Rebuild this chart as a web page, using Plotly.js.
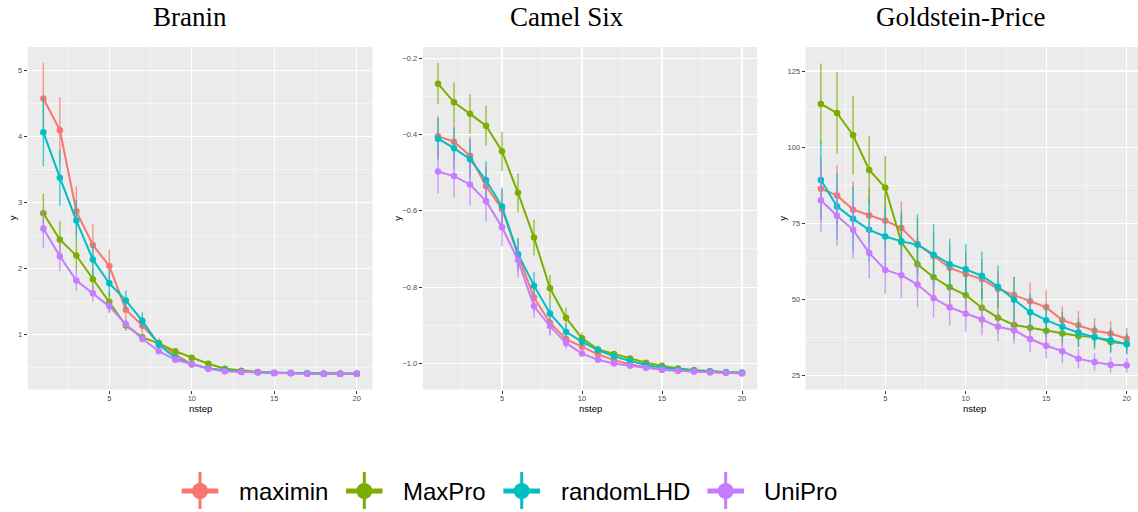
<!DOCTYPE html>
<html>
<head>
<meta charset="utf-8">
<script src="https://cdn.plot.ly/plotly-3.0.1.min.js"></script>
<style>html,body{margin:0;padding:0;background:#fff;}#chart{width:1138px;height:512px;}</style>
</head>
<body>
<div id="chart"></div>
<script>
// ---------- data ----------
const nstep = [1,2,3,4,5,6,7,8,9,10,11,12,13,14,15,16,17,18,19,20];
const seriesNames = ['maximin','MaxPro','randomLHD','UniPro'];
const panelTitles = ['Branin','Camel Six','Goldstein-Price'];
const xTickVals = [5,10,15,20];

// Branin
const braninMaximin    = [4.57,4.09,2.86,2.35,2.03,1.37,1.13,0.86,0.69,0.54,0.48,0.44,0.43,0.42,0.41,0.41,0.40,0.40,0.40,0.40];
const braninMaximinErr = [0.54,0.50,0.38,0.32,0.25,0.18,0.12,0.08,0.05,0.03,0.02,0.01,0.01,0.01,0.01,0.005,0.005,0.005,0.005,0.005];
const braninMaxPro     = [2.83,2.43,2.19,1.83,1.49,1.13,0.95,0.86,0.74,0.64,0.55,0.475,0.445,0.425,0.415,0.41,0.405,0.40,0.40,0.40];
const braninMaxProErr  = [0.30,0.28,0.22,0.18,0.15,0.08,0.05,0.04,0.03,0.02,0.015,0.01,0.01,0.005,0.005,0.005,0.005,0.005,0.005,0.005];
const braninRandom     = [4.06,3.37,2.72,2.13,1.77,1.51,1.20,0.84,0.64,0.545,0.48,0.45,0.43,0.42,0.41,0.41,0.405,0.40,0.40,0.40];
const braninRandomErr  = [0.52,0.42,0.31,0.25,0.20,0.15,0.13,0.07,0.04,0.02,0.015,0.01,0.01,0.005,0.005,0.005,0.005,0.005,0.005,0.005];
const braninUniPro     = [2.60,2.18,1.81,1.62,1.42,1.15,0.93,0.74,0.61,0.545,0.475,0.435,0.425,0.42,0.41,0.405,0.40,0.40,0.40,0.40];
const braninUniProErr  = [0.30,0.23,0.16,0.13,0.10,0.07,0.06,0.04,0.03,0.02,0.01,0.01,0.005,0.005,0.005,0.005,0.005,0.005,0.005,0.005];
const braninYTicks     = [1,2,3,4,5];

// Camel Six
const camelMaximin    = [-0.405,-0.419,-0.456,-0.535,-0.595,-0.716,-0.827,-0.893,-0.936,-0.956,-0.976,-0.991,-1.002,-1.010,-1.016,-1.019,-1.021,-1.023,-1.024,-1.025];
const camelMaximinErr = [0.054,0.052,0.050,0.050,0.050,0.045,0.040,0.030,0.020,0.012,0.008,0.006,0.005,0.004,0.003,0.003,0.002,0.002,0.002,0.002];
const camelMaxPro     = [-0.267,-0.316,-0.346,-0.377,-0.444,-0.553,-0.670,-0.803,-0.880,-0.934,-0.963,-0.975,-0.987,-0.998,-1.006,-1.013,-1.017,-1.020,-1.023,-1.024];
const camelMaxProErr  = [0.054,0.052,0.052,0.052,0.052,0.051,0.047,0.035,0.026,0.015,0.010,0.008,0.006,0.005,0.004,0.003,0.003,0.002,0.002,0.002];
const camelRandom     = [-0.411,-0.436,-0.465,-0.520,-0.589,-0.713,-0.796,-0.869,-0.917,-0.943,-0.965,-0.981,-0.993,-1.004,-1.011,-1.016,-1.019,-1.021,-1.023,-1.024];
const camelRandomErr  = [0.055,0.055,0.053,0.050,0.050,0.040,0.036,0.030,0.020,0.012,0.008,0.006,0.005,0.004,0.003,0.003,0.002,0.002,0.002,0.002];
const camelUniPro     = [-0.497,-0.509,-0.531,-0.574,-0.643,-0.729,-0.850,-0.902,-0.946,-0.974,-0.990,-1.000,-1.006,-1.011,-1.016,-1.019,-1.021,-1.023,-1.024,-1.026];
const camelUniProErr  = [0.057,0.056,0.055,0.054,0.050,0.045,0.030,0.025,0.015,0.008,0.006,0.005,0.004,0.003,0.003,0.002,0.002,0.002,0.002,0.002];
const camelYTicks     = [-1.0,-0.8,-0.6,-0.4,-0.2];

// Goldstein-Price
const goldMaximin    = [86.3,84.1,79.4,77.5,75.8,73.4,68.1,64.2,60.3,58.3,56.6,53.4,51.4,49.3,47.3,43.1,41.4,39.6,38.7,37.0];
const goldMaximinErr = [10,10,9.4,9,9,8.8,8.5,8,7.5,7,6.5,6,6,6,5.6,4.6,4.6,4.2,4,3.5];
const goldMaxPro     = [114.2,111.2,103.9,92.5,86.6,68.7,61.5,57.2,53.9,51.3,47.2,43.9,41.5,40.6,39.6,38.7,37.9,37.6,35.9,35.3];
const goldMaxProErr  = [13.3,13.4,12.9,11.2,10.5,9,8.5,8,7.5,7,6.5,5,4.5,4.5,4.2,4,3.8,3.5,3.5,3.2];
const goldRandom     = [89.2,80.5,76.4,72.8,70.6,69.0,67.9,64.6,61.5,59.8,57.7,54.1,49.8,45.7,43.1,40.9,39.0,37.5,36.5,35.2];
const goldRandomErr  = [13,11,11,10.5,10,10,10,10,8.4,8.4,8,7,7.5,6,5.5,5,4.5,4,4,3.4];
const goldUniPro     = [82.5,77.4,72.8,65.2,59.6,57.9,54.8,50.4,47.3,45.2,43.3,40.9,39.8,36.9,34.7,32.9,30.4,29.3,28.4,28.3];
const goldUniProErr  = [10.6,9.8,9.5,8.5,7.8,7.7,7.5,6.5,6,5.8,5.2,4.7,4.5,4.4,4.2,4,3.2,2.8,2.6,2.5];
const goldYTicks     = [25,50,75,100,125];

// ---------- styling ----------
const colors = ['#F8766D','#7CAE00','#00BFC4','#C77CFF'];
const errColors = ['rgba(248,118,109,0.75)','rgba(124,174,0,0.75)','rgba(0,191,196,0.75)','rgba(199,124,255,0.75)'];
const W = 1138, H = 512;
const px = v => v / W;
const py = v => 1 - v / H;
const midpoints = arr => {
  const out = [];
  const step = arr[1] - arr[0];
  out.push(arr[0] - step / 2);
  for (let k = 0; k < arr.length; k++) out.push(arr[k] + step / 2);
  return out;
};

const panels = [
  {vals:[braninMaximin,braninMaxPro,braninRandom,braninUniPro], errs:[braninMaximinErr,braninMaxProErr,braninRandomErr,braninUniProErr],
   dom:[27.7,372.4], xr:[0.05,20.95], yr:[0.16,5.35], yticks:braninYTicks, fmt:'', titleX:190.3, yTitleX:12.3},
  {vals:[camelMaximin,camelMaxPro,camelRandom,camelUniPro], errs:[camelMaximinErr,camelMaxProErr,camelRandomErr,camelUniProErr],
   dom:[422.8,757.2], xr:[0.05,20.95], yr:[-1.068,-0.171], yticks:camelYTicks, fmt:'.1f', titleX:567, yTitleX:396.7},
  {vals:[goldMaximin,goldMaxPro,goldRandom,goldUniPro], errs:[goldMaximinErr,goldMaxProErr,goldRandomErr,goldUniProErr],
   dom:[805.6,1138], xr:[0.05,20.70], yr:[20.3,132.9], yticks:goldYTicks, fmt:'', titleX:960, yTitleX:781.7}
];

const plotTop = 47, plotBot = 389.5;
const traces = [];
const tickFont = {size: 7.5, color: '#4D4D4D', family: 'Liberation Sans, Arial, sans-serif'};
const layout = {
  width: W, height: H,
  margin: {l:0, r:0, t:0, b:0},
  paper_bgcolor: '#ffffff',
  plot_bgcolor: '#EBEBEB',
  showlegend: false,
  font: {family: 'Liberation Sans, Arial, sans-serif', color: '#000'},
  annotations: [],
  shapes: []
};

panels.forEach((p, i) => {
  const xa = i === 0 ? 'x' : 'x' + (i + 1);
  const ya = i === 0 ? 'y' : 'y' + (i + 1);
  const xKey = i === 0 ? 'xaxis' : 'xaxis' + (i + 1);
  const yKey = i === 0 ? 'yaxis' : 'yaxis' + (i + 1);
  p.vals.forEach((v, s) => {
    traces.push({
      type: 'scatter', mode: 'lines+markers',
      x: nstep, y: v, name: seriesNames[s],
      xaxis: xa, yaxis: ya,
      line: {color: colors[s], width: 2},
      marker: {color: colors[s], size: 6.5},
      error_y: {type: 'data', array: p.errs[s], visible: true, color: errColors[s], thickness: 1.4, width: 0},
      hoverinfo: 'x+y+name'
    });
  });
  layout[xKey] = {
    domain: [px(p.dom[0]), px(p.dom[1])],
    anchor: ya, range: p.xr,
    tickmode: 'array', tickvals: xTickVals,
    showgrid: true, gridcolor: '#FFFFFF', gridwidth: 1.1,
    minor: {tickmode: 'array', tickvals: midpoints(xTickVals), showgrid: true, gridcolor: '#FFFFFF', gridwidth: 0.55},
    zeroline: false, showline: false,
    ticks: 'outside', ticklen: 3, tickwidth: 1, tickcolor: '#333333',
    ticklabelstandoff: -2,
    tickfont: tickFont
  };
  layout[yKey] = {
    domain: [py(plotBot), py(plotTop)],
    anchor: xa, range: p.yr,
    tickmode: 'array', tickvals: p.yticks, tickformat: p.fmt,
    showgrid: true, gridcolor: '#FFFFFF', gridwidth: 1.1,
    minor: {tickmode: 'array', tickvals: midpoints(p.yticks), showgrid: true, gridcolor: '#FFFFFF', gridwidth: 0.55},
    zeroline: false, showline: false,
    ticks: 'outside', ticklen: 3, tickwidth: 1, tickcolor: '#333333',
    ticklabelstandoff: 0,
    tickfont: tickFont
  };
  // panel title
  layout.annotations.push({
    text: panelTitles[i], xref: 'paper', yref: 'paper',
    x: px(p.titleX), y: py(17), xanchor: 'center', yanchor: 'middle',
    showarrow: false, font: {family: 'Liberation Serif, Times New Roman, serif', size: 27, color: '#000'}
  });
  // axis titles
  layout.annotations.push({
    text: 'nstep', xref: 'paper', yref: 'paper',
    x: px((p.dom[0] + p.dom[1]) / 2 + (i === 2 ? 3 : 0)), y: py(408), xanchor: 'center', yanchor: 'middle',
    showarrow: false, font: {size: 9.5, color: '#000'}
  });
  layout.annotations.push({
    text: 'y', xref: 'paper', yref: 'paper', textangle: -90,
    x: px(p.yTitleX), y: py(218), xanchor: 'center', yanchor: 'middle',
    showarrow: false, font: {size: 9.5, color: '#000'}
  });
});

// ---------- legend (drawn as key glyphs + text) ----------
const legendKeyX = [200, 364.3, 521.7, 725.7];
const legendTextX = [237.7, 401.7, 560, 763.3];
const legY = 491;
seriesNames.forEach((name, s) => {
  const cx = legendKeyX[s];
  layout.shapes.push({type:'line', xref:'paper', yref:'paper', x0:px(cx-18.3), x1:px(cx+18.3), y0:py(legY), y1:py(legY), line:{color:colors[s], width:5}});
  layout.shapes.push({type:'line', xref:'paper', yref:'paper', x0:px(cx), x1:px(cx), y0:py(472), y1:py(509), line:{color:colors[s], width:3}});
  layout.shapes.push({type:'circle', xref:'paper', yref:'paper', x0:px(cx-8), x1:px(cx+8), y0:py(legY+8), y1:py(legY-8), fillcolor:colors[s], line:{color:colors[s], width:0}});
  layout.annotations.push({
    text: name, xref:'paper', yref:'paper', x: px(legendTextX[s] - 1), y: py(legY), xanchor:'left', yanchor:'middle',
    showarrow:false, font:{size:24, color:'#000', family:'Liberation Sans, Arial, sans-serif'}
  });
});

Plotly.newPlot('chart', traces, layout, {displayModeBar: false, staticPlot: true});
</script>
</body>
</html>
